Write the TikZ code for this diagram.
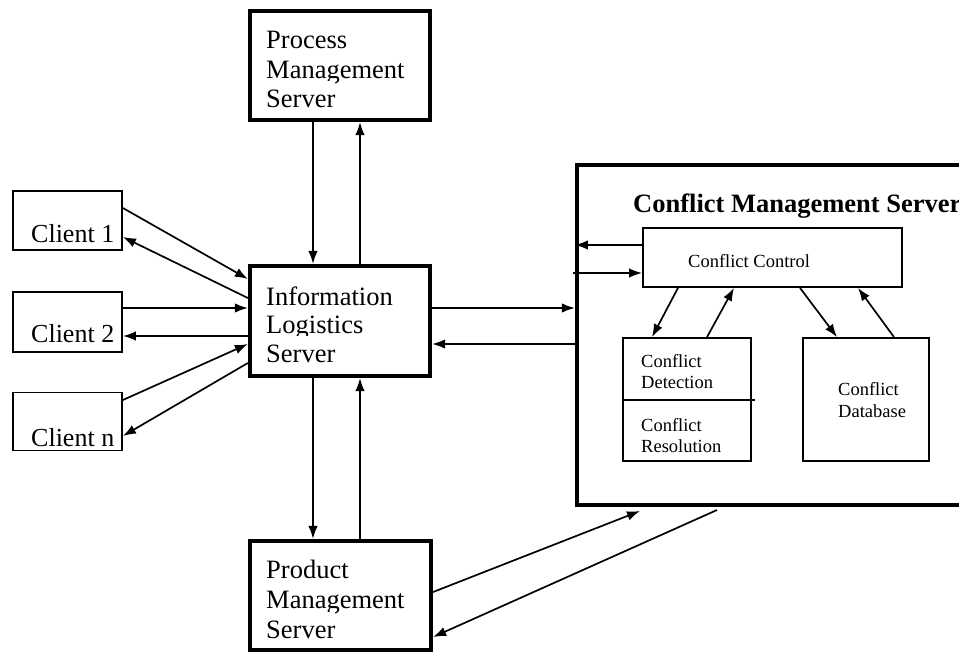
\documentclass[tikz,border=0pt]{standalone}
\usepackage{fontspec}
\setmainfont{Liberation Serif}
\usetikzlibrary{arrows.meta}
\begin{document}
\begin{tikzpicture}[x=1pt,y=-1pt,
  thickbox/.style={draw,line width=4.2pt,inner sep=0pt},
  thinbox/.style={draw,line width=1.8pt,inner sep=0pt},
  arr/.style={line width=1.7pt,-{Latex[length=13pt,width=9.5pt]}},
  bigline/.style={anchor=base west,inner sep=0pt,fill=white,text height=26pt,text depth=6pt,
    font=\fontsize{26.5}{28}\selectfont},
  clienttxt/.style={anchor=base west,inner sep=0pt,font=\fontsize{26}{28}\selectfont},
  smalltxt/.style={anchor=base west,inner sep=0pt,font=\fontsize{18.5}{20}\selectfont},
  titletxt/.style={anchor=base west,inner sep=0pt,font=\fontsize{26.5}{28}\selectfont\bfseries}]
\fill[white] (0,0) rectangle (959,653);
\clip (0,0) rectangle (959,653);

% main servers
\node[thickbox,minimum width=180pt,minimum height=109pt] (pms) at (340,65.5) {};
\node[thickbox,minimum width=180pt,minimum height=110pt] (ils) at (340,321) {};
\node[thickbox,minimum width=181pt,minimum height=109pt] (prms) at (340.5,595.5) {};
\node[thickbox,minimum width=386pt,minimum height=340pt] (cms) at (770,335) {};

% server labels, line by line
\node[bigline] (pms1) at (266,48) {Process};
\node[bigline] (pms2) at (266,78) {Management};
\node[bigline] (pms3) at (266,107) {Server};
\node[bigline] (ils1) at (266,305) {Information};
\node[bigline] (ils2) at (266,333) {Logistics};
\node[bigline] (ils3) at (266,362) {Server};
\node[bigline] (prms1) at (266,578) {Product};
\node[bigline] (prms2) at (266,608) {Management};
\node[bigline] (prms3) at (266,638) {Server};

% clients
\node[thinbox,minimum width=109pt,minimum height=59pt] (c1) at (67.5,220.5) {};
\node[thinbox,minimum width=109pt,minimum height=60pt] (c2) at (67.5,322) {};
\node[thinbox,minimum width=109pt,minimum height=58pt] (cn) at (67.5,421.5) {};
\node[clienttxt] (c1t) at (31,242) {Client 1};
\node[clienttxt] (c2t) at (31,342) {Client 2};
\node[clienttxt] (cnt) at (31,446) {Client n};

% conflict management internals
\node[titletxt] (cmst) at (633,212) {Conflict Management Server};
\node[thinbox,minimum width=259pt,minimum height=59pt] (cc) at (772.5,257.5) {};
\node[smalltxt] (cct) at (688,267) {Conflict Control};
\node[thinbox,minimum width=128pt,minimum height=123pt] (det) at (687,399.5) {};
\node[thinbox,minimum width=126pt,minimum height=123pt] (db) at (866,399.5) {};
\coordinate (divend) at (755,400);
\draw[line width=1.8pt] (det.west |- divend) -- (divend);
\node[smalltxt] (det1) at (641,367) {Conflict};
\node[smalltxt] (det2) at (641,388) {Detection};
\node[smalltxt] (res1) at (641,431) {Conflict};
\node[smalltxt] (res2) at (641,452) {Resolution};
\node[smalltxt] (db1) at (838,395) {Conflict};
\node[smalltxt] (db2) at (838,417) {Database};

% process / product management links
\draw[arr] (pms.south -| 313,0) -- (ils.north -| 313,0);
\draw[arr] (ils.north -| 360,0) -- (pms.south -| 360,0);
\draw[arr] (ils.south -| 313,0) -- (prms.north -| 313,0);
\draw[arr] (prms.north -| 360,0) -- (ils.south -| 360,0);

% information logistics <-> conflict management
\draw[arr] (ils.east |- 0,308) -- (cms.west |- 0,308);
\draw[arr] (cms.west |- 0,344) -- (ils.east |- 0,344);

% clients
\draw[arr] (c1.east |- 0,208) -- (ils.west |- 0,279);
\draw[arr] (ils.west |- 0,298) -- (c1.east |- 0,237);
\draw[arr] (c2.east |- 0,308) -- (ils.west |- 0,308);
\draw[arr] (ils.west |- 0,336) -- (c2.east |- 0,336);
\draw[arr] (cn.east |- 0,400) -- (ils.west |- 0,344);
\draw[arr] (ils.west |- 0,363) -- (cn.east |- 0,436);

% conflict control links
\coordinate (cin) at (573,273);
\draw[arr] (cc.west |- 0,245) -- (cms.west |- 0,245);
\draw[arr] (cin) -- (cc.west |- cin);
\draw[arr] (cc.south -| 678,0) -- (det.north -| 652,0);
\draw[arr] (det.north -| 707,0) -- (cc.south -| 734,0);
\draw[arr] (cc.south -| 800,0) -- (db.north -| 837,0);
\draw[arr] (db.north -| 894,0) -- (cc.south -| 858,0);

% product management <-> conflict management
\coordinate (pin) at (640,511);
\coordinate (pout) at (717,510);
\draw[arr] (prms.east |- 0,592) -- (pin);
\draw[arr] (pout) -- (prms.east |- 0,637);
\end{tikzpicture}
\end{document}
